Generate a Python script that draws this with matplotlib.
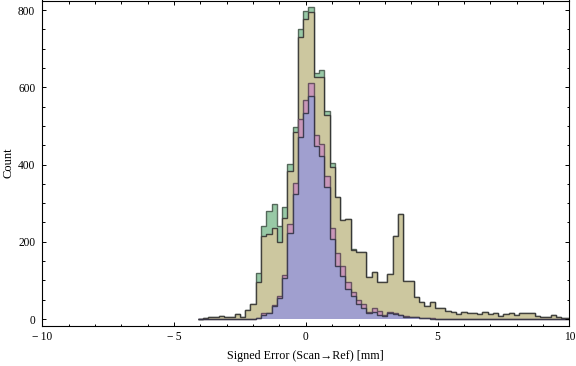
import numpy as np
import matplotlib
matplotlib.use("Agg")
import matplotlib.pyplot as plt
from matplotlib.ticker import MultipleLocator

# ---- data (bin centers every 0.2, bins are [c-0.1, c+0.1]) ----
centers = [round(-4.0 + 0.2 * i, 1) for i in range(71)]

tan = [1, 3, 6, 6, 9, 5, 5, 13, 5, 23,
       39, 97, 215, 220, 235, 200, 261, 382, 483, 730,
       776, 795, 626, 626, 528, 394, 315, 256, 260, 178,
       174, 174, 108, 121, 95, 95, 116, 215, 271, 98,
       98, 56, 44, 33, 44, 28, 28, 22, 17, 13,
       17, 15, 15, 12, 17, 13, 15, 8, 13, 15,
       10, 15, 15, 15, 8, 6, 6, 10, 4, 2,
       2]

green_extra = {-1.8: 118, -1.6: 242, -1.4: 280, -1.2: 297, -1.0: 241,
               -0.8: 289, -0.6: 401, -0.4: 496, -0.2: 750, 0.0: 798,
               0.2: 807, 0.4: 638, 0.6: 644, 0.8: 538, 1.0: 403, 1.8: 181}

pink_vals = {-1.8: 2, -1.6: 15, -1.4: 16, -1.2: 36, -1.0: 60, -0.8: 114,
             -0.6: 245, -0.4: 352, -0.2: 517, 0.0: 567, 0.2: 612, 0.4: 477,
             0.6: 452, 0.8: 371, 1.0: 235, 1.2: 172, 1.4: 138, 1.6: 95,
             1.8: 69, 2.0: 49, 2.2: 39, 2.4: 19, 2.6: 28, 2.8: 22, 3.0: 10,
             3.2: 17, 3.4: 15, 3.6: 10, 3.8: 9, 4.0: 6, 4.2: 4, 4.4: 3,
             4.6: 2, 4.8: 2}

blue_vals = {-1.8: 2, -1.6: 10, -1.4: 16, -1.2: 34, -1.0: 55, -0.8: 107,
             -0.6: 222, -0.4: 323, -0.2: 470, 0.0: 534, 0.2: 578, 0.4: 448,
             0.6: 422, 0.8: 343, 1.0: 206, 1.2: 137, 1.4: 111, 1.6: 78,
             1.8: 60, 2.0: 39, 2.2: 28, 2.4: 15, 2.6: 17, 2.8: 10, 3.0: 8,
             3.2: 15, 3.4: 13, 3.6: 10, 3.8: 6, 4.0: 6, 4.2: 4, 4.4: 3,
             4.6: 2, 4.8: 1}

green = [green_extra.get(c, t) for c, t in zip(centers, tan)]
pink = [pink_vals.get(c, 0) for c in centers]
blue = [blue_vals.get(c, 0) for c in centers]

xticks = [-10, -5, 0, 5, 10]
xticklabels = ["\u2212\u200910", "\u2212\u20095", "0", "5", "10"]
yticks = [0, 200, 400, 600, 800]

# ---- figure ----
W, H = 576, 366
fig = plt.figure(figsize=(W / 100, H / 100), dpi=100)
ax = fig.add_axes([42.3 / W, 1 - 325.5 / H, (569.3 - 42.3) / W, (325.5 - 0.5) / H])

edges = np.array([c - 0.1 for c in centers] + [centers[-1] + 0.1])

layers = [
    (green, "#98c9a6", "#4d5e52"),
    (tan, "#ccc79f", "#333333"),
    (pink, "#c997b9", "#5e4a58"),
    (blue, "#a09fcf", "#333344"),
]
for vals, fc, ec in layers:
    ax.stairs(vals, edges, fill=True, facecolor=fc, edgecolor="none", baseline=0)
    ax.stairs(vals, edges, fill=False, color=ec, linewidth=1.0, baseline=0, alpha=0.9)

ax.set_xlim(-10, 10)
ax.set_ylim(-16.8, 824.6)

serif = ["Liberation Serif", "DejaVu Serif"]
ax.set_xticks(xticks)
ax.set_xticklabels(xticklabels, fontfamily=serif, fontsize=8.3)
ax.set_yticks(yticks)
ax.set_yticklabels([str(v) for v in yticks], fontfamily=serif, fontsize=8.3)
ax.xaxis.set_minor_locator(MultipleLocator(1))
ax.yaxis.set_minor_locator(MultipleLocator(50))
ax.tick_params(which="both", direction="in", top=True, right=True, width=0.7, color="black")
ax.tick_params(which="major", length=3.2)
ax.tick_params(which="minor", length=1.8)
ax.tick_params(axis="x", which="major", pad=4)
ax.tick_params(axis="y", which="major", pad=5)
for s in ax.spines.values():
    s.set_linewidth(0.8)

fig.text(305 / W, 1 - 356 / H, "Signed Error (Scan\u2192Ref) [mm]", ha="center", va="center",
         fontfamily=serif, fontsize=8.7)
fig.text(8.5 / W, 1 - 163 / H, "Count", ha="center", va="center", rotation=90,
         fontfamily=serif, fontsize=9)

fig.savefig("out.png", dpi=100)
